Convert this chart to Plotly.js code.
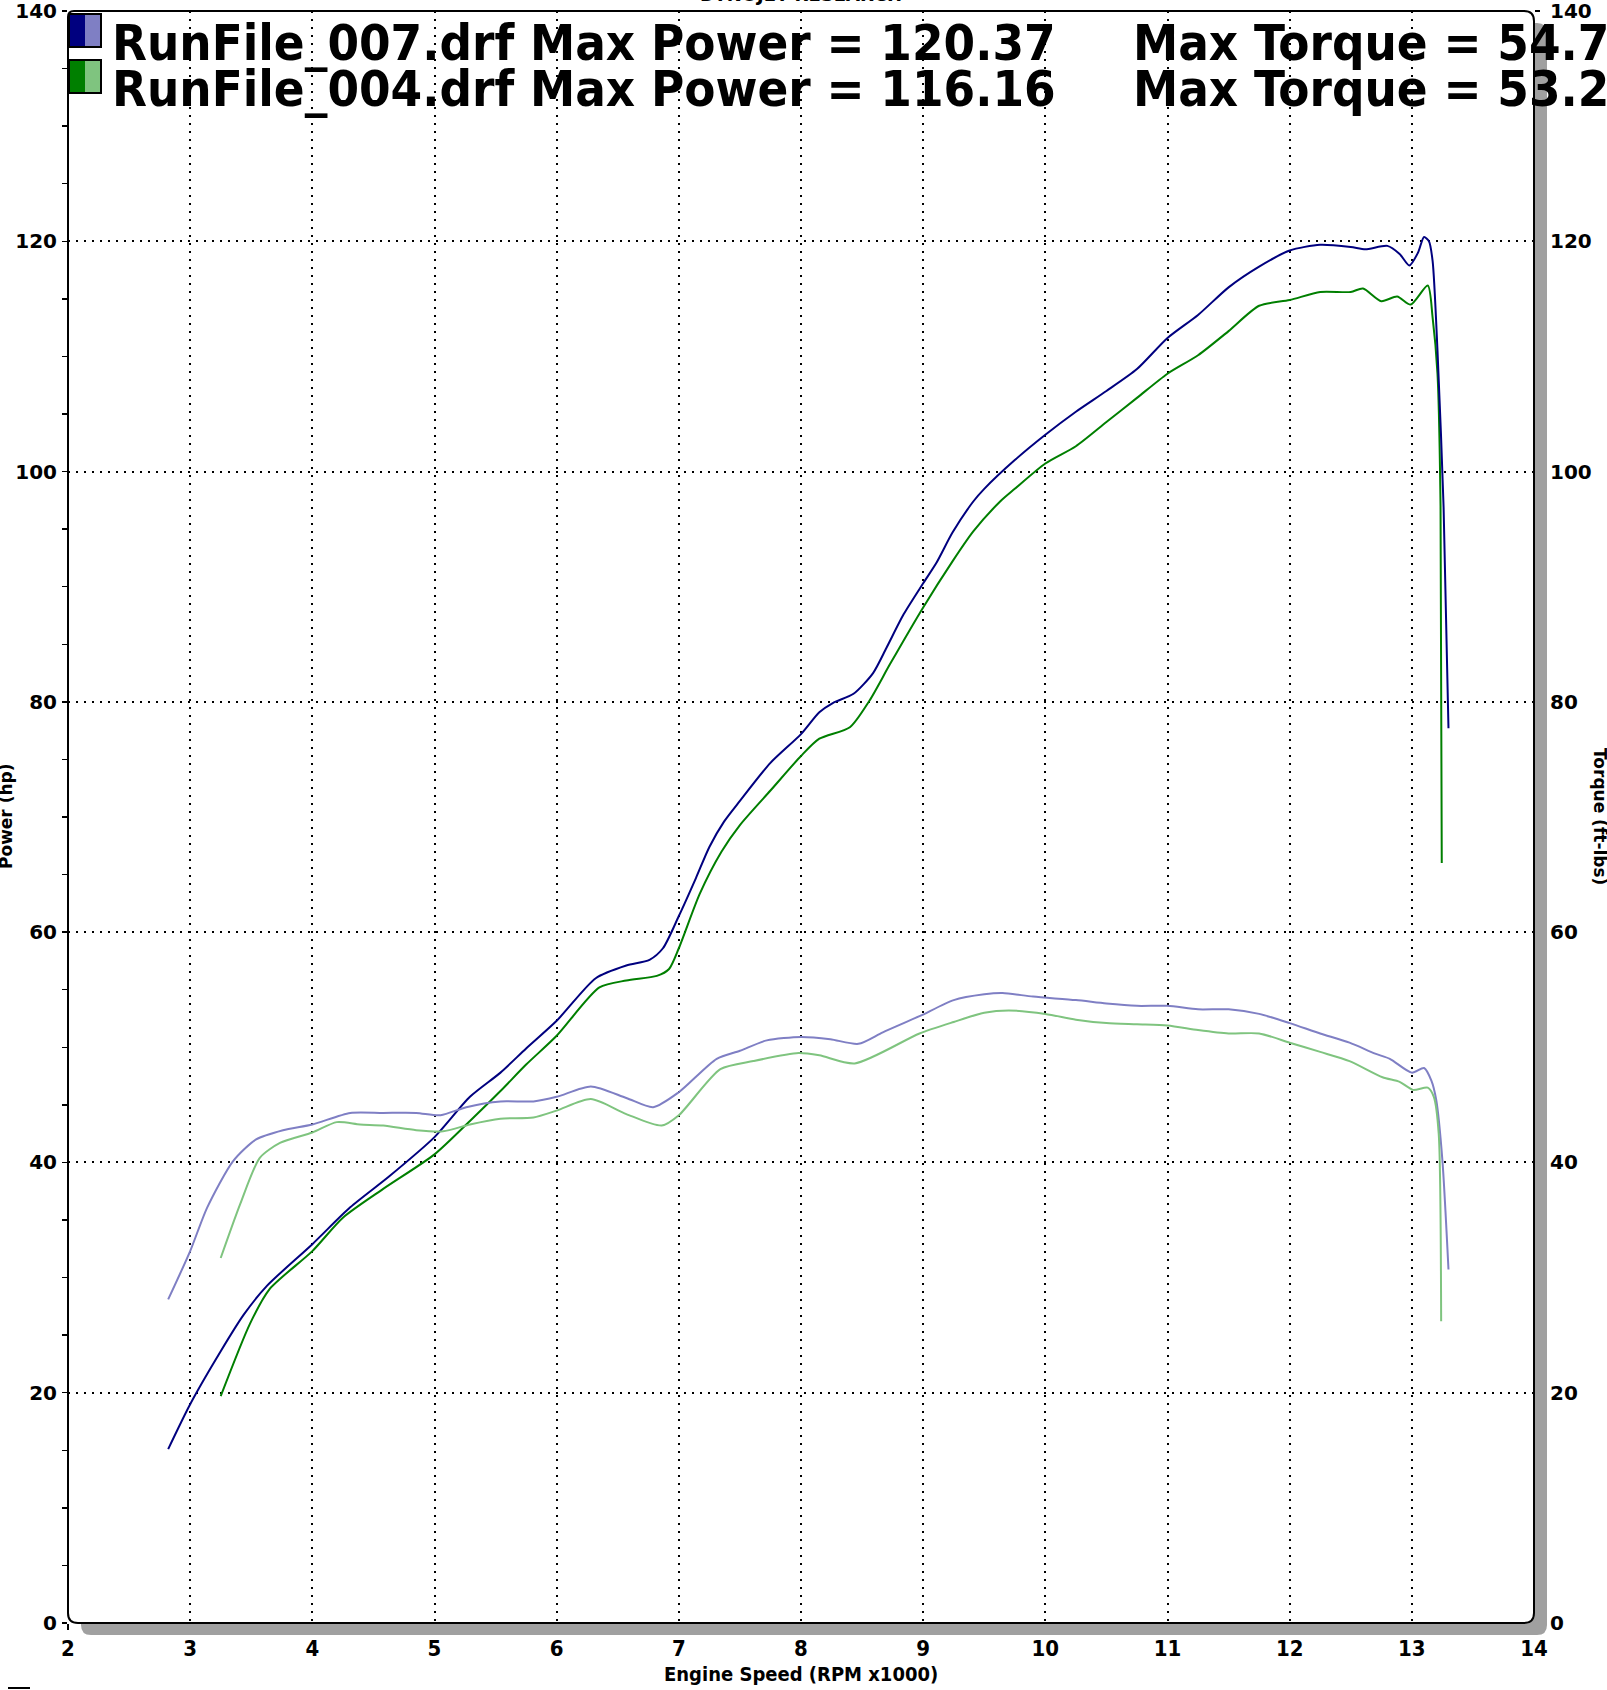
<!DOCTYPE html>
<html>
<head>
<meta charset="utf-8">
<script src="https://cdn.plot.ly/plotly-3.0.1.min.js"></script>
<style>
html,body{margin:0;padding:0;background:#fff;}
#chart{width:1607px;height:1690px;}
</style>
</head>
<body>
<div id="chart"></div>
<script>
// ---------------- DATA ----------------
const rpm007Power = [2.82,3.0,3.25,3.44,3.63,4.0,4.31,4.63,5.0,5.29,5.54,5.75,6.0,6.32,6.57,6.76,6.87,7.0,7.14,7.25,7.37,7.5,7.75,8.0,8.15,8.26,8.43,8.59,8.70,8.84,9.0,9.11,9.24,9.41,9.5,9.75,10.0,10.25,10.5,10.75,11.0,11.25,11.5,11.75,12.0,12.25,12.5,12.62,12.8,12.9,12.98,13.05,13.10,13.14,13.17,13.21,13.26,13.30];
const power007    = [15.1,19.0,23.6,26.8,29.3,32.9,36.1,38.8,42.2,45.7,47.8,49.9,52.3,56.0,57.1,57.6,58.6,61.4,64.7,67.4,69.6,71.4,74.7,77.2,79.1,79.9,80.7,82.5,84.7,87.6,90.3,92.1,94.7,97.4,98.5,101.0,103.2,105.2,107.0,108.9,111.6,113.6,116.0,117.8,119.2,119.7,119.5,119.3,119.6,118.9,117.9,119.0,120.37,120.0,118.3,110.5,96.9,77.7];

const rpm004Power = [3.25,3.49,3.65,4.0,4.25,4.58,5.0,5.29,5.54,5.75,6.0,6.35,6.57,6.82,6.92,7.0,7.17,7.35,7.5,7.75,8.0,8.15,8.4,8.56,8.73,9.0,9.24,9.41,9.63,9.75,10.0,10.25,10.5,10.75,11.0,11.25,11.5,11.75,12.0,12.25,12.5,12.6,12.75,12.88,12.99,13.13,13.17,13.21,13.235,13.245];
const power004    = [19.7,26.0,29.0,32.3,35.2,37.7,40.7,43.6,46.2,48.5,51.0,55.2,55.8,56.2,56.8,58.6,63.3,67.0,69.3,72.3,75.3,76.8,77.8,80.1,83.3,88.2,92.2,94.8,97.4,98.5,100.7,102.2,104.3,106.4,108.5,110.1,112.2,114.4,114.9,115.6,115.6,115.9,114.8,115.2,114.5,116.16,113.4,108.5,97.0,66.0];

const rpm007Torque = [2.82,3.0,3.14,3.35,3.54,3.76,4.0,4.31,4.58,4.85,5.05,5.26,5.54,5.81,6.0,6.28,6.57,6.79,7.0,7.31,7.5,7.72,8.0,8.24,8.47,8.67,8.97,9.25,9.5,9.65,9.9,10.25,10.5,10.75,11.0,11.25,11.5,11.75,12.0,12.25,12.49,12.70,12.82,13.0,13.1,13.16,13.2,13.25,13.30];
const torque007    = [28.1,32.3,36.1,40.1,42.0,42.8,43.3,44.3,44.3,44.3,44.1,44.8,45.3,45.3,45.7,46.6,45.6,44.8,46.1,49.0,49.7,50.6,50.9,50.7,50.3,51.3,52.7,54.1,54.6,54.71,54.4,54.1,53.8,53.6,53.6,53.3,53.3,52.9,52.1,51.2,50.4,49.45,49.0,47.8,48.2,47.1,45.4,40.2,30.7];

const rpm004Torque = [3.25,3.41,3.57,3.735,4.0,4.2,4.39,4.58,4.85,5.07,5.29,5.54,5.81,6.0,6.28,6.57,6.86,7.0,7.34,7.61,7.98,8.15,8.44,8.97,9.25,9.5,9.7,10.0,10.25,10.5,10.75,11.0,11.25,11.5,11.75,12.0,12.25,12.49,12.76,12.9,13.01,13.13,13.18,13.22,13.24];
const torque004    = [31.7,36.4,40.4,41.7,42.6,43.5,43.3,43.2,42.8,42.7,43.3,43.8,43.9,44.5,45.5,44.2,43.2,44.1,48.1,48.8,49.5,49.3,48.6,51.2,52.2,53.0,53.2,52.9,52.4,52.1,52.0,51.9,51.5,51.2,51.2,50.4,49.6,48.8,47.4,47.0,46.3,46.5,45.7,42.5,26.2];

const runNames   = ["RunFile_007.drf", "RunFile_004.drf"];
const maxPower   = ["120.37", "116.16"];
const maxTorque  = ["54.7", "53.2"];
const chartTitle = "DYNOJET RESEARCH";
const xTitle     = "Engine Speed (RPM x1000)";
const yTitle     = "Power (hp)";
const y2Title    = "Torque (ft-lbs)";

// ---------------- STYLE / GEOMETRY ----------------
const W = 1607, H = 1690;
const L = 68, R = 1534, T = 11, B = 1623;
const PW = R - L, PH = B - T;
const px = x => (x - L) / PW;
const py = y => (B - y) / PH;

const navy = "#00007f", lightNavy = "#7f7fc4";
const green = "#007f00", lightGreen = "#7fc47f";

const condBold = {family: "DejaVu Sans Condensed, DejaVu Sans", weight: "bold", color: "#000"};
const vBold = {family: "DejaVu Sans, Verdana", weight: "bold", color: "#000"};

const traces = [
  {x: rpm007Torque, y: torque007, xaxis: "x", yaxis: "y2", mode: "lines",
   line: {color: lightNavy, width: 2, shape: "spline", smoothing: 0.7}, hoverinfo: "skip"},
  {x: rpm004Torque, y: torque004, xaxis: "x", yaxis: "y2", mode: "lines",
   line: {color: lightGreen, width: 2, shape: "spline", smoothing: 0.7}, hoverinfo: "skip"},
  {x: rpm004Power, y: power004, xaxis: "x", yaxis: "y", mode: "lines",
   line: {color: green, width: 2, shape: "spline", smoothing: 0.7}, hoverinfo: "skip"},
  {x: rpm007Power, y: power007, xaxis: "x", yaxis: "y", mode: "lines",
   line: {color: navy, width: 2, shape: "spline", smoothing: 0.7}, hoverinfo: "skip"}
];

const gridDash = "2px,6px";
const baseAx = {zeroline: false, showline: false, fixedrange: true, tickcolor: "#000", ticklabeloverflow: "allow"};

// rounded frame path
function rounded(l, t, r, b, rad, radTL) {
  const P = (x, y) => px(x) + "," + py(y);
  return "M " + P(l, b - rad) + " L " + P(l, t + radTL) + " Q " + P(l, t) + " " + P(l + radTL, t) +
         " L " + P(r - rad, t) + " Q " + P(r, t) + " " + P(r, t + rad) +
         " L " + P(r, b - rad) + " Q " + P(r, b) + " " + P(r - rad, b) +
         " L " + P(l + rad, b) + " Q " + P(l, b) + " " + P(l, b - rad) + " Z";
}
function shadowPath() {
  const P = (x, y) => px(x) + "," + py(y);
  const dx = 13, dy = 12, r = 10;
  return "M " + P(R + 1, T + dy) + " L " + P(R + dx - r, T + dy) + " Q " + P(R + dx, T + dy) + " " + P(R + dx, T + dy + r) +
         " L " + P(R + dx, B + dy - r) + " Q " + P(R + dx, B + dy) + " " + P(R + dx - r, B + dy) +
         " L " + P(L + dx + r, B + dy) + " Q " + P(L + dx, B + dy) + " " + P(L + dx, B + dy - r) +
         " L " + P(L + dx, B + 1) + " L " + P(R - r, B + 1) + " Q " + P(R + 1, B + 1) + " " + P(R + 1, B - r) + " Z";
}

const shapes = [
  {type: "path", xref: "paper", yref: "paper", path: shadowPath(), fillcolor: "#a0a0a0", line: {width: 0}, layer: "above"},
  {type: "path", xref: "paper", yref: "paper", path: rounded(L, T, R, B, 10, 6), fillcolor: "rgba(0,0,0,0)", line: {color: "#000", width: 2}, layer: "above"},
  // legend swatches
  {type: "rect", xref: "paper", yref: "paper", x0: px(69), x1: px(85), y0: py(14), y1: py(47), fillcolor: navy, line: {width: 0}, layer: "above"},
  {type: "rect", xref: "paper", yref: "paper", x0: px(85), x1: px(101), y0: py(14), y1: py(47), fillcolor: lightNavy, line: {width: 0}, layer: "above"},
  {type: "rect", xref: "paper", yref: "paper", x0: px(69), x1: px(101), y0: py(14), y1: py(47), fillcolor: "rgba(0,0,0,0)", line: {color: "#000", width: 2}, layer: "above"},
  {type: "rect", xref: "paper", yref: "paper", x0: px(69), x1: px(85), y0: py(60), y1: py(93), fillcolor: green, line: {width: 0}, layer: "above"},
  {type: "rect", xref: "paper", yref: "paper", x0: px(85), x1: px(101), y0: py(60), y1: py(93), fillcolor: lightGreen, line: {width: 0}, layer: "above"},
  {type: "rect", xref: "paper", yref: "paper", x0: px(69), x1: px(101), y0: py(60), y1: py(93), fillcolor: "rgba(0,0,0,0)", line: {color: "#000", width: 2}, layer: "above"},
  // cut-off mark at bottom-left of page
  {type: "line", xref: "paper", yref: "paper", x0: px(8), x1: px(30), y0: py(1688), y1: py(1688), line: {color: "#000", width: 2}}
];

const legendFont = Object.assign({size: 50.5}, condBold);
const annotations = [
  {text: chartTitle, xref: "paper", yref: "paper", x: px(801), y: py(7), xanchor: "center", yanchor: "bottom",
   showarrow: false, font: Object.assign({size: 18}, vBold)},
  {text: runNames[0] + " Max Power = " + maxPower[0], xref: "paper", yref: "paper", x: px(110), y: py(43),
   xanchor: "left", yanchor: "middle", showarrow: false, font: legendFont},
  {text: "Max Torque = " + maxTorque[0], xref: "paper", yref: "paper", x: px(1131), y: py(43),
   xanchor: "left", yanchor: "middle", showarrow: false, font: legendFont},
  {text: runNames[1] + " Max Power = " + maxPower[1], xref: "paper", yref: "paper", x: px(110), y: py(88),
   xanchor: "left", yanchor: "middle", showarrow: false, font: legendFont},
  {text: "Max Torque = " + maxTorque[1], xref: "paper", yref: "paper", x: px(1131), y: py(88),
   xanchor: "left", yanchor: "middle", showarrow: false, font: legendFont},
  {text: xTitle, xref: "paper", yref: "paper", x: px(801), y: py(1674), xanchor: "center", yanchor: "middle",
   showarrow: false, font: Object.assign({size: 20}, condBold)},
  {text: yTitle, xref: "paper", yref: "paper", x: px(6), y: py(816), xanchor: "center", yanchor: "middle",
   textangle: -90, showarrow: false, font: Object.assign({size: 17}, vBold)},
  {text: y2Title, xref: "paper", yref: "paper", x: px(1600), y: py(816), xanchor: "center", yanchor: "middle",
   textangle: 90, showarrow: false, font: Object.assign({size: 17}, vBold)}
];

const minorX = (side) => ({dtick: 0.2, tick0: 2, ticks: side, ticklen: 6, tickwidth: 1.5, tickcolor: "#000", showgrid: false});
const minorY = (side) => ({dtick: 5, tick0: 0, ticks: side, ticklen: 5, tickwidth: 1.5, tickcolor: "#000", showgrid: false});

const layout = {
  width: W, height: H,
  margin: {l: L, r: W - R, t: T, b: H - B, pad: 0},
  paper_bgcolor: "#fff", plot_bgcolor: "#fff",
  showlegend: false,
  xaxis: Object.assign({}, baseAx, {
    range: [2, 14], dtick: 1, tick0: 2, ticks: "outside", ticklen: 6, tickwidth: 1.5,
    minor: minorX("outside"), showgrid: true, gridcolor: "#000", gridwidth: 2, griddash: gridDash,
    tickfont: Object.assign({size: 22}, condBold), ticklabelstandoff: 0, anchor: "y"
  }),
  xaxis2: Object.assign({}, baseAx, {
    range: [2, 14], dtick: 1, tick0: 2, ticks: "inside", ticklen: 6, tickwidth: 1.5,
    minor: minorX("inside"), showgrid: false, showticklabels: false, overlaying: "x", anchor: "y", side: "bottom"
  }),
  yaxis: Object.assign({}, baseAx, {
    range: [0, 140], dtick: 20, tick0: 0, ticks: "outside", ticklen: 5, tickwidth: 1.5,
    minor: minorY("outside"), showgrid: true, gridcolor: "#000", gridwidth: 2, griddash: gridDash,
    tickfont: Object.assign({size: 20}, vBold), ticklabelstandoff: 1, anchor: "x", side: "left"
  }),
  yaxis2: Object.assign({}, baseAx, {
    range: [0, 140], dtick: 20, tick0: 0, ticks: "outside", ticklen: 5, tickwidth: 1.5,
    minor: minorY("outside"), showgrid: false, overlaying: "y", side: "right", anchor: "x",
    tickfont: Object.assign({size: 20}, vBold), ticklabelstandoff: 6
  }),
  yaxis3: Object.assign({}, baseAx, {
    range: [0, 140], dtick: 20, tick0: 0, ticks: "inside", ticklen: 5, tickwidth: 1.5,
    minor: minorY("inside"), showgrid: false, showticklabels: false, overlaying: "y", side: "left", anchor: "x"
  }),
  yaxis4: Object.assign({}, baseAx, {
    range: [0, 140], dtick: 20, tick0: 0, ticks: "inside", ticklen: 5, tickwidth: 1.5,
    minor: minorY("inside"), showgrid: false, showticklabels: false, overlaying: "y", side: "right", anchor: "x"
  }),
  shapes: shapes,
  annotations: annotations
};

Plotly.newPlot("chart", traces, layout, {displayModeBar: false, staticPlot: true});
</script>
</body>
</html>
